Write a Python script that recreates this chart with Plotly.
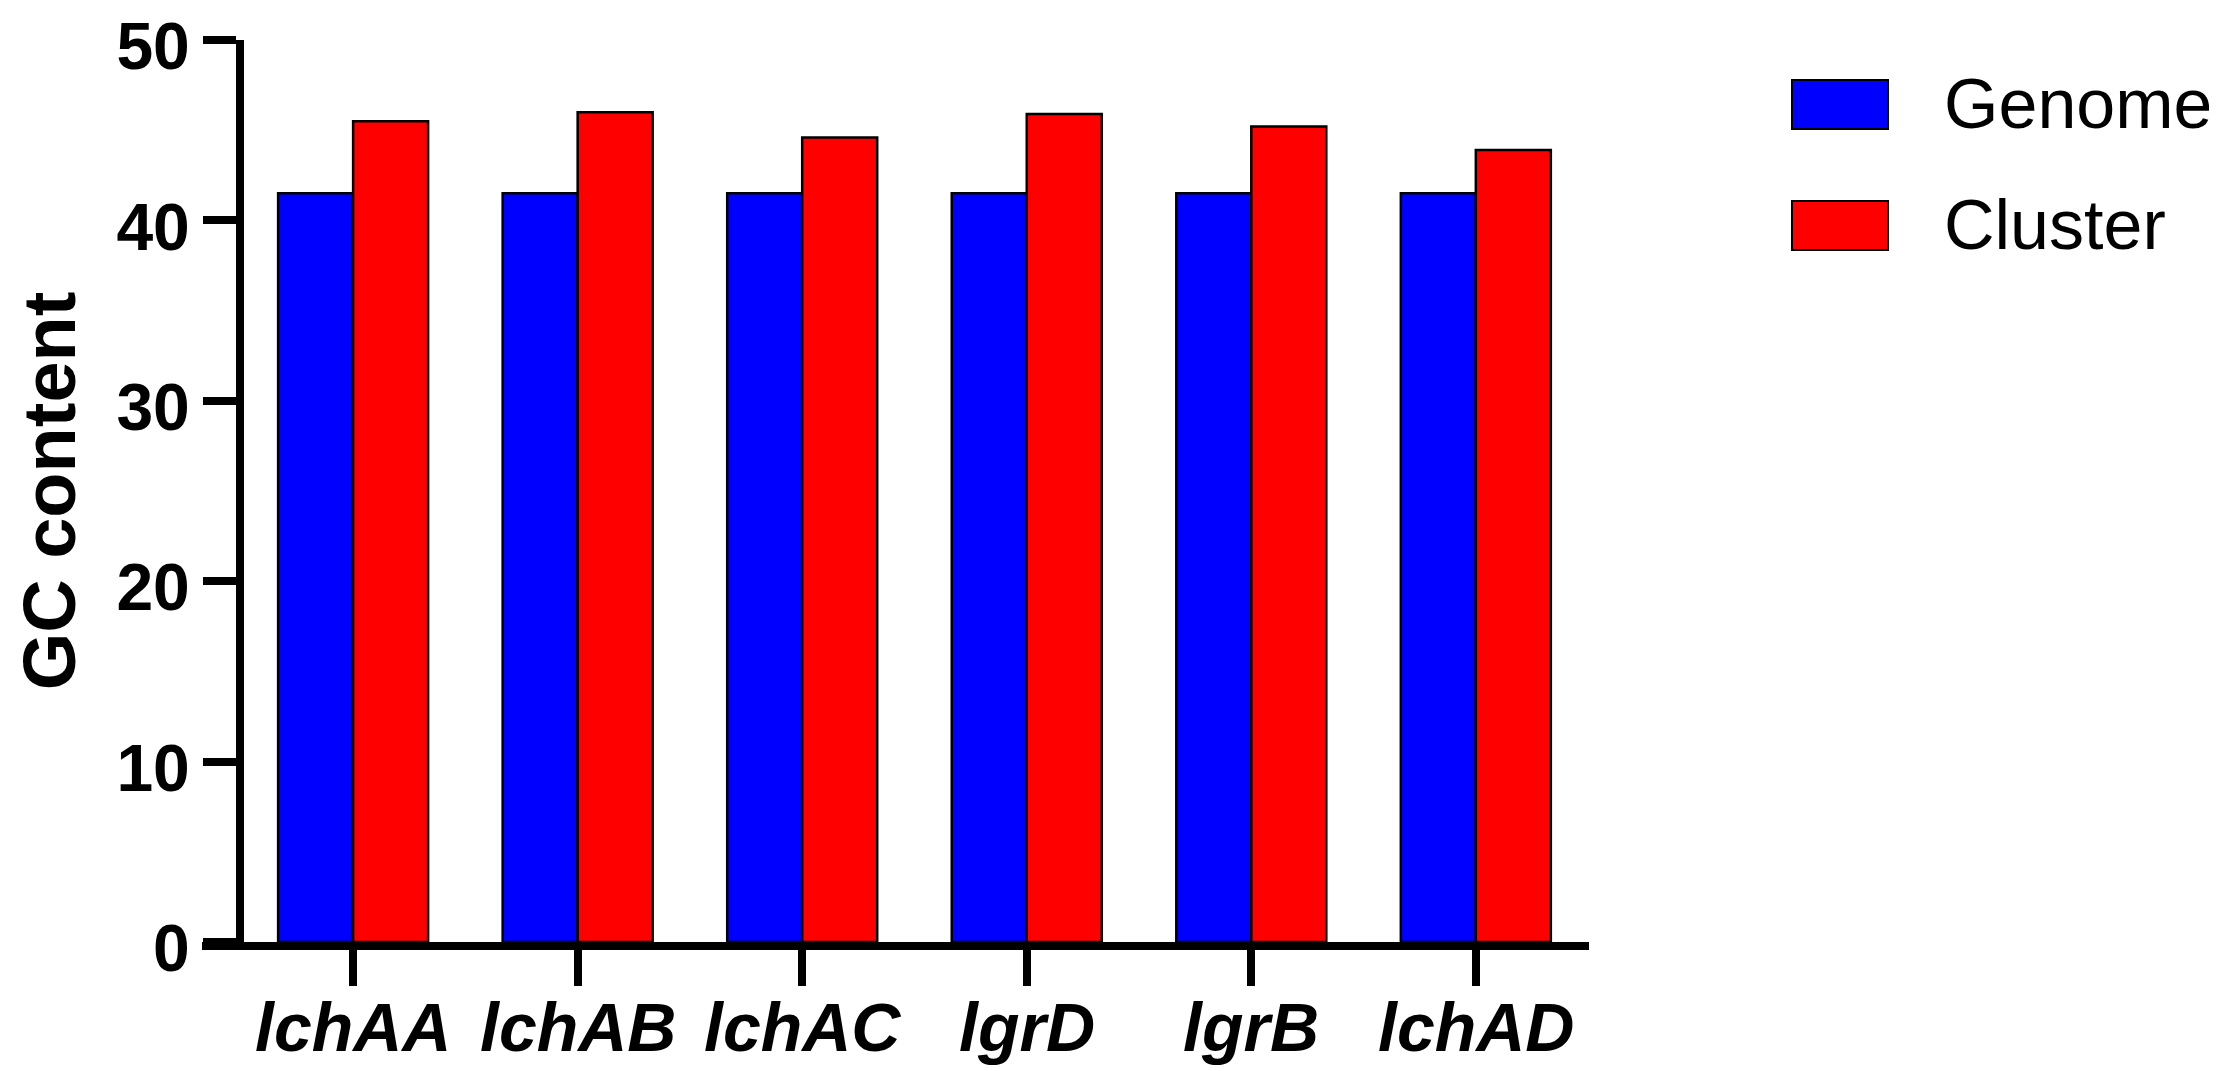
import plotly.graph_objects as go

# GC content per cluster
genes = ['lchAA', 'lchAB', 'lchAC', 'lgrD', 'lgrB', 'lchAD']
genome_gc = [41.5, 41.5, 41.5, 41.5, 41.5, 41.5]
cluster_gc = [45.5, 46.0, 44.6, 45.9, 45.2, 43.9]
series_names = ['Genome', 'Cluster']
series_colors = ['#0000FF', '#FF0000']
y_ticks = [0, 10, 20, 30, 40, 50]

W, H = 2217, 1071
L, R, T, B = 194, 636, 32, 137
plot_w = W - L - R
plot_h = H - T - B
FONT = 'Liberation Sans, Arial'


def px_x(x):
    return (x - L) / plot_w


def px_y(y):
    return 1 - (y - T) / plot_h


fig = go.Figure()
for name, vals, col in zip(series_names, [genome_gc, cluster_gc], series_colors):
    fig.add_trace(go.Bar(
        x=genes, y=vals, name=name,
        marker=dict(color=col, line=dict(color='black', width=2.5)),
        showlegend=False
    ))

# category labels sit closer to the ticks than plotly puts them
for g in genes:
    fig.add_annotation(text=g, x=g, xref='x', y=px_y(1019), yref='paper',
                       yanchor='middle', showarrow=False,
                       font=dict(family=FONT, size=68, weight='bold', style='italic',
                                 color='black'))

# legend drawn by hand so the swatches can be as large as the original
for i, (name, col) in enumerate(zip(series_names, series_colors)):
    top = 72 + i * 121
    fig.add_shape(type='rect', xref='paper', yref='paper',
                  x0=px_x(1784), x1=px_x(1880), y0=px_y(top + 49), y1=px_y(top),
                  fillcolor=col, line=dict(color='black', width=2))
    fig.add_annotation(text=name, xref='paper', yref='paper',
                       x=px_x(1934), y=px_y(top + 24), xanchor='left', yanchor='middle',
                       showarrow=False,
                       font=dict(family=FONT, size=70, color='black'))

fig.update_layout(
    width=W, height=H,
    margin=dict(l=L, r=R, t=T, b=B),
    paper_bgcolor='white', plot_bgcolor='white',
    barmode='group', bargap=0.332, bargroupgap=0,
    font=dict(family=FONT, color='black'),
    xaxis=dict(
        range=[-0.673, 5.504], domain=[0, 1], automargin=False,
        showline=True, linecolor='black', linewidth=8,
        ticks='outside', ticklen=36, tickwidth=8, tickcolor='black',
        showticklabels=False,
        showgrid=False, zeroline=False
    ),
    yaxis=dict(
        range=[0, 50], anchor='free', position=px_x(232), automargin=False,
        tickvals=y_ticks, ticklabeloverflow='allow', ticklabelshift=6,
        showline=True, linecolor='black', linewidth=8,
        ticks='outside', ticklen=33, tickwidth=8, tickcolor='black',
        tickfont=dict(size=66, weight='bold'),
        title=dict(text='GC content', font=dict(size=74, weight='bold'), standoff=38),
        showgrid=False, zeroline=False
    )
)

fig.write_html('out.html')
